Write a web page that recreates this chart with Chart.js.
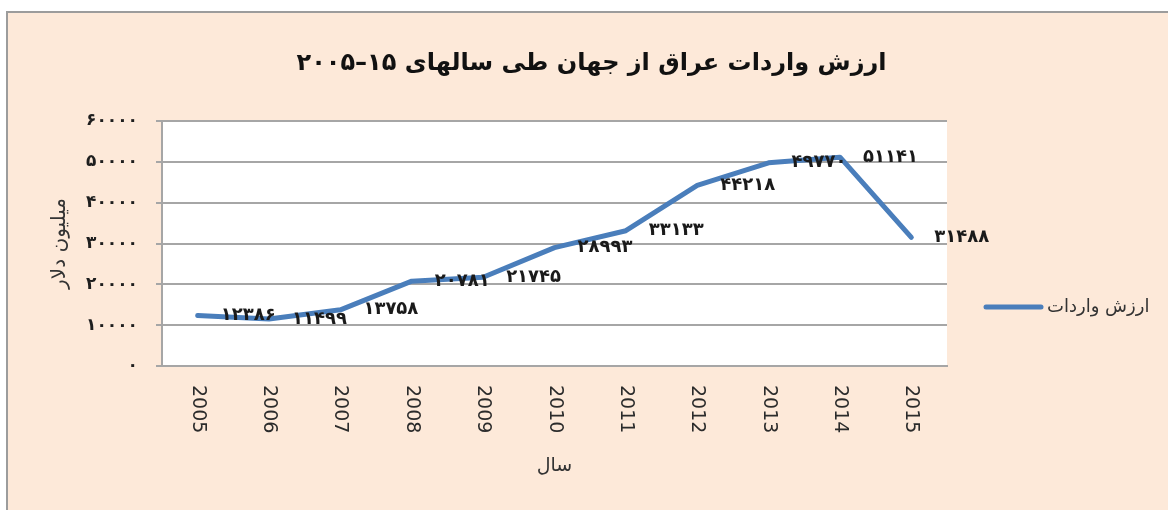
<!DOCTYPE html>
<html lang="fa">
<head>
<meta charset="utf-8">
<title>ارزش واردات عراق</title>
<script src="https://cdn.jsdelivr.net/npm/chart.js@4.4.1/dist/chart.umd.min.js"></script>
<style>
  html, body { margin: 0; padding: 0; background: #fff; }
  #wrap { width: 1168px; height: 510px; }
</style>
</head>
<body>
<div id="wrap"><canvas id="importsChart" width="1168" height="510"></canvas></div>
<script>
// imports of Iraq, million dollars
const years = ['2005', '2006', '2007', '2008', '2009', '2010', '2011', '2012', '2013', '2014', '2015'];
const importValues = [12386, 11499, 13758, 20781, 21745, 28993, 33133, 44218, 49770, 51141, 31488];
const seriesLabel = 'ارزش واردات';
const chartTitle = 'ارزش واردات عراق از جهان طی سالهای ۱۵–۲۰۰۵';
const yAxisTitle = 'میلیون دلار';
const xAxisTitle = 'سال';
const yMin = 0;
const yMax = 60000;
const yStep = 10000;

const FA_DIGITS = '۰۱۲۳۴۵۶۷۸۹';
const toFa = n => String(n).replace(/\d/g, d => FA_DIGITS[d]);

const FONT = "'DejaVu Sans', sans-serif";
const LINE_BLUE = '#4a7ebb';
const GRID_GREY = '#a6a6a6';
const PANEL = '#fde9d9';
const FRAME_LEFT = 7;
const FRAME_TOP = 12;

// page frame + white plot area
const backdrop = {
  id: 'backdrop',
  beforeDraw(chart) {
    const { ctx, width, height, chartArea: a } = chart;
    ctx.save();
    ctx.fillStyle = '#fff';
    ctx.fillRect(0, 0, width, height);
    ctx.fillStyle = PANEL;
    ctx.fillRect(FRAME_LEFT, FRAME_TOP, width - FRAME_LEFT, height - FRAME_TOP);
    ctx.strokeStyle = '#9c9c9c';
    ctx.lineWidth = 2;
    ctx.beginPath();
    ctx.moveTo(FRAME_LEFT, height);
    ctx.lineTo(FRAME_LEFT, FRAME_TOP);
    ctx.lineTo(width, FRAME_TOP);
    ctx.stroke();
    ctx.fillStyle = '#fff';
    ctx.fillRect(a.left, a.top, a.right - a.left, a.bottom - a.top);
    ctx.restore();
  }
};

// value labels to the right of each point, vertical year labels, title, legend
const annotate = {
  id: 'annotate',
  afterDatasetsDraw(chart) {
    const { ctx } = chart;
    const meta = chart.getDatasetMeta(0);
    const values = chart.data.datasets[0].data;
    ctx.save();
    ctx.fillStyle = '#1a1a1a';
    ctx.font = 'bold 18px ' + FONT;
    ctx.textAlign = 'left';
    ctx.textBaseline = 'middle';
    meta.data.forEach((pt, i) => {
      ctx.fillText(toFa(values[i]), pt.x + 23, pt.y);
    });
    ctx.restore();
  },
  afterDraw(chart) {
    const { ctx, width, chartArea: a } = chart;
    const x = chart.scales.x;
    ctx.save();

    // heading, centred on the panel
    ctx.fillStyle = '#111';
    ctx.font = 'bold 24px ' + FONT;
    ctx.textAlign = 'center';
    ctx.textBaseline = 'middle';
    ctx.fillText(chartTitle, (FRAME_LEFT + width) / 2 + 4, 64);

    // years read top-to-bottom under each category
    ctx.fillStyle = '#2b2b2b';
    ctx.font = '19px ' + FONT;
    ctx.textAlign = 'left';
    x.ticks.forEach((t, i) => {
      ctx.save();
      ctx.translate(x.getPixelForTick(i), a.bottom + 19);
      ctx.rotate(Math.PI / 2);
      ctx.fillText(chart.data.labels[i], 0, 0);
      ctx.restore();
    });

    const ds = chart.data.datasets[0];
    const lx = a.right + 39;
    const ly = a.top + 186;
    ctx.strokeStyle = ds.borderColor;
    ctx.lineWidth = ds.borderWidth;
    ctx.lineCap = 'round';
    ctx.beginPath();
    ctx.moveTo(lx, ly);
    ctx.lineTo(lx + 55, ly);
    ctx.stroke();
    ctx.fillStyle = '#333';
    ctx.font = '18px ' + FONT;
    ctx.fillText(ds.label, lx + 61, ly);
    ctx.restore();
  }
};

new Chart(document.getElementById('importsChart'), {
  type: 'line',
  data: {
    labels: years,
    datasets: [{
      label: seriesLabel,
      data: importValues,
      borderColor: LINE_BLUE,
      borderWidth: 5,
      borderCapStyle: 'round',
      borderJoinStyle: 'round',
      tension: 0,
      pointRadius: 0,
      fill: false
    }]
  },
  options: {
    responsive: false,
    animation: false,
    devicePixelRatio: 1,
    layout: { padding: { left: 0, right: 221, top: 121, bottom: 0 } },
    plugins: {
      legend: { display: false },
      tooltip: { enabled: false },
      title: { display: false }
    },
    scales: {
      x: {
        type: 'category',
        offset: true,
        grid: { display: false },
        border: { display: true, color: GRID_GREY, width: 2 },
        ticks: { display: false },
        title: {
          display: true,
          text: xAxisTitle,
          color: '#333',
          font: { family: FONT, size: 19, lineHeight: 1.2 },
          padding: { top: 33, bottom: 33 }
        },
        afterFit(scale) { scale.height = 144; }
      },
      y: {
        min: yMin,
        max: yMax,
        ticks: {
          stepSize: yStep,
          padding: 18,
          color: '#1e1e1e',
          font: { family: FONT, size: 17, weight: 'bold' },
          callback: v => toFa(v)
        },
        grid: {
          color: GRID_GREY,
          lineWidth: 2,
          drawTicks: true,
          tickLength: 6
        },
        border: { display: true, color: GRID_GREY, width: 2 },
        title: {
          display: true,
          text: yAxisTitle,
          color: '#333',
          font: { family: FONT, size: 20, lineHeight: 1.2 },
          padding: { top: 48, bottom: 48 }
        },
        afterFit(scale) { scale.width = 162; }
      }
    }
  },
  plugins: [backdrop, annotate]
});
</script>
</body>
</html>
